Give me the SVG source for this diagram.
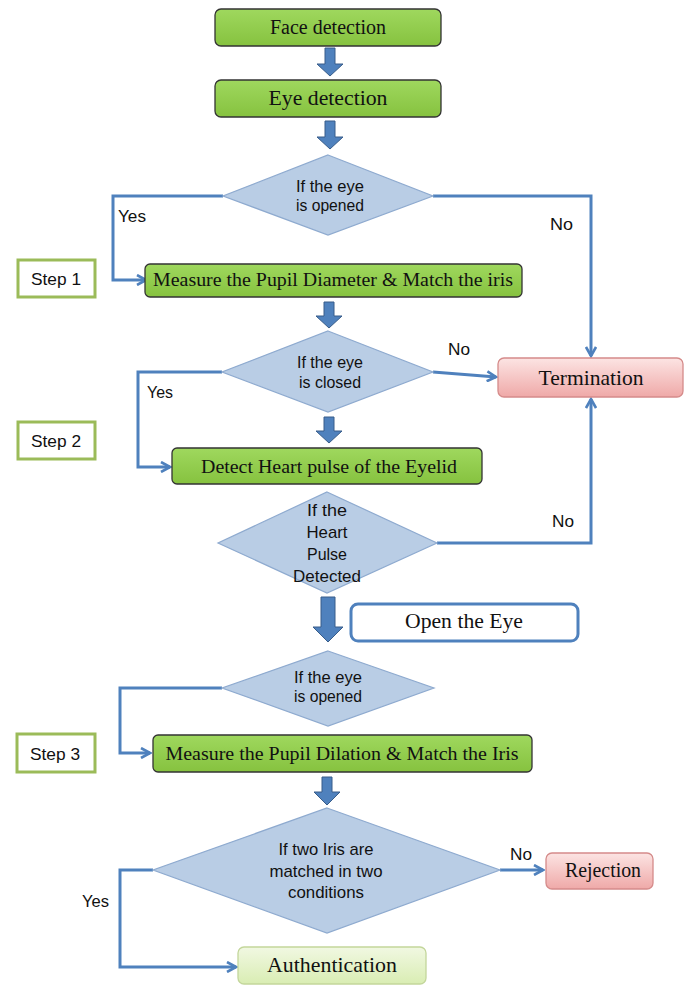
<svg xmlns="http://www.w3.org/2000/svg" width="691" height="985" viewBox="0 0 691 985">
<defs>
<linearGradient id="gGreen" x1="0" y1="0" x2="0" y2="1"><stop offset="0" stop-color="#9FD85E"/><stop offset="1" stop-color="#86C23F"/></linearGradient>
<linearGradient id="gPink" x1="0" y1="0" x2="0" y2="1"><stop offset="0" stop-color="#FCE4E3"/><stop offset="1" stop-color="#EFA9A8"/></linearGradient>
<linearGradient id="gLight" x1="0" y1="0" x2="0" y2="1"><stop offset="0" stop-color="#F1F8E2"/><stop offset="1" stop-color="#D9EDB3"/></linearGradient>
<marker id="ah" viewBox="0 0 12 12" refX="10" refY="6" markerWidth="12" markerHeight="12" markerUnits="userSpaceOnUse" orient="auto">
<path d="M1,1 L10,6 L1,11" fill="none" stroke="#4F81BD" stroke-width="2.6" stroke-linejoin="miter"/>
</marker>
<style>
.proc{fill:url(#gGreen);stroke:#333;stroke-width:1.3}
.term{fill:url(#gPink);stroke:#D58B8A;stroke-width:1.3}
.auth{fill:url(#gLight);stroke:#C3D69B;stroke-width:1.3}
.step{fill:#fff;stroke:#9BBB59;stroke-width:3}
.open{fill:#fff;stroke:#4F81BD;stroke-width:3}
.dec{fill:#B9CDE5;stroke:#8EAACF;stroke-width:1.2}
.blk{fill:#4F81BD;stroke:#385D8A;stroke-width:1}
.con{fill:none;stroke:#4F81BD;stroke-width:3;marker-end:url(#ah)}
.serif{font-family:"Liberation Serif","Times New Roman",serif;fill:#111;text-anchor:middle}
.sans{font-family:"Liberation Sans",Arial,sans-serif;fill:#111;text-anchor:middle;font-size:17px}
.lbl{font-family:"Liberation Sans",Arial,sans-serif;fill:#111;font-size:17px}
</style>
</defs>

<g id="connectors">
<path class="con" d="M223,196 H113 V280 H146"/>
<path class="con" d="M433,196 H591 V356"/>
<path class="con" d="M433,372 L496,377"/>
<path class="con" d="M222,372 H138 V467 H170"/>
<path class="con" d="M437,543 H591 V399"/>
<path class="con" d="M222,688 H120 V753 H150"/>
<path class="con" d="M153,870 H120 V967 H236"/>
<path class="con" d="M500,870 H543"/>
<path class="blk" d="M325,48 H335 V64 H343 L330,76 L317,64 H325 Z"/>
<path class="blk" d="M325,121 H335 V137 H343 L330,149 L317,137 H325 Z"/>
<path class="blk" d="M324,302 H334 V316 H342 L329,328 L316,316 H324 Z"/>
<path class="blk" d="M324,417 H334 V431 H342 L329,443 L316,431 H324 Z"/>
<path class="blk" d="M321,597 H335 V627 H343 L328,642 L313,627 H321 Z"/>
<path class="blk" d="M322,777 H332 V792 H340 L327,805 L314,792 H322 Z"/>
<text class="lbl" x="118" y="222" textLength="28" lengthAdjust="spacingAndGlyphs">Yes</text>
<text class="lbl" x="550" y="230" textLength="23" lengthAdjust="spacingAndGlyphs">No</text>
<text class="lbl" x="448" y="355" textLength="22" lengthAdjust="spacingAndGlyphs">No</text>
<text class="lbl" x="147" y="398" textLength="26" lengthAdjust="spacingAndGlyphs">Yes</text>
<text class="lbl" x="552" y="527" textLength="22" lengthAdjust="spacingAndGlyphs">No</text>
<text class="lbl" x="510" y="860" textLength="22" lengthAdjust="spacingAndGlyphs">No</text>
<text class="lbl" x="82" y="907" textLength="27" lengthAdjust="spacingAndGlyphs">Yes</text>
</g>

<g id="face">
<rect class="proc" x="215" y="9" width="226" height="37" rx="6"/>
<text class="serif" x="328" y="34" font-size="20" textLength="116" lengthAdjust="spacingAndGlyphs">Face detection</text>
</g>
<g id="eye">
<rect class="proc" x="215" y="80" width="226" height="37" rx="6"/>
<text class="serif" x="328" y="105" font-size="22" textLength="119" lengthAdjust="spacingAndGlyphs">Eye detection</text>
</g>
<g id="dec1">
<polygon class="dec" points="328,155 433,196 328,235 223,196"/>
<text class="sans" x="330" y="192" textLength="68" lengthAdjust="spacingAndGlyphs">If the eye</text>
<text class="sans" x="330" y="211" textLength="68" lengthAdjust="spacingAndGlyphs">is opened</text>
</g>
<g id="step1">
<rect class="step" x="18" y="260" width="77" height="37"/>
<text class="sans" x="56" y="285" textLength="50" lengthAdjust="spacingAndGlyphs">Step 1</text>
</g>
<g id="measure1">
<rect class="proc" x="145" y="264" width="377" height="33" rx="5"/>
<text class="serif" x="333" y="286" font-size="19" textLength="360" lengthAdjust="spacingAndGlyphs">Measure the Pupil Diameter &amp; Match the iris</text>
</g>
<g id="dec2">
<polygon class="dec" points="328,331 433,372 328,412 222,372"/>
<text class="sans" x="330" y="368" textLength="66" lengthAdjust="spacingAndGlyphs">If the eye</text>
<text class="sans" x="330" y="388" textLength="62" lengthAdjust="spacingAndGlyphs">is closed</text>
</g>
<g id="termination">
<rect class="term" x="498" y="358" width="185" height="39" rx="6"/>
<text class="serif" x="591" y="385" font-size="21" textLength="105" lengthAdjust="spacingAndGlyphs">Termination</text>
</g>
<g id="step2">
<rect class="step" x="18" y="422" width="77" height="37"/>
<text class="sans" x="56" y="447" textLength="50" lengthAdjust="spacingAndGlyphs">Step 2</text>
</g>
<g id="detect">
<rect class="proc" x="172" y="448" width="310" height="36" rx="5"/>
<text class="serif" x="329" y="473" font-size="19" textLength="256" lengthAdjust="spacingAndGlyphs">Detect Heart pulse of the Eyelid</text>
</g>
<g id="dec3">
<polygon class="dec" points="327,492 437,543 327,593 218,543"/>
<text class="sans" x="327" y="516" textLength="40" lengthAdjust="spacingAndGlyphs">If the</text>
<text class="sans" x="327" y="538" textLength="41" lengthAdjust="spacingAndGlyphs">Heart</text>
<text class="sans" x="327" y="560" textLength="40" lengthAdjust="spacingAndGlyphs">Pulse</text>
<text class="sans" x="327" y="582" textLength="68" lengthAdjust="spacingAndGlyphs">Detected</text>
</g>
<g id="openeye">
<rect class="open" x="351" y="604" width="227" height="37" rx="7"/>
<text class="serif" x="464" y="628" font-size="21" textLength="118" lengthAdjust="spacingAndGlyphs">Open the Eye</text>
</g>
<g id="dec4">
<polygon class="dec" points="328,651 434,688 328,726 222,688"/>
<text class="sans" x="328" y="683" textLength="68" lengthAdjust="spacingAndGlyphs">If the eye</text>
<text class="sans" x="328" y="702" textLength="68" lengthAdjust="spacingAndGlyphs">is opened</text>
</g>
<g id="step3">
<rect class="step" x="17" y="734" width="78" height="38"/>
<text class="sans" x="55" y="760" textLength="50" lengthAdjust="spacingAndGlyphs">Step 3</text>
</g>
<g id="measure2">
<rect class="proc" x="153" y="735" width="379" height="37" rx="5"/>
<text class="serif" x="342" y="760" font-size="19" textLength="353" lengthAdjust="spacingAndGlyphs">Measure the Pupil Dilation &amp; Match the Iris</text>
</g>
<g id="dec5">
<polygon class="dec" points="327,808 500,870 327,933 153,870"/>
<text class="sans" x="326" y="855" textLength="95" lengthAdjust="spacingAndGlyphs">If two Iris are</text>
<text class="sans" x="326" y="877" textLength="113" lengthAdjust="spacingAndGlyphs">matched in two</text>
<text class="sans" x="326" y="898" textLength="76" lengthAdjust="spacingAndGlyphs">conditions</text>
</g>
<g id="rejection">
<rect class="term" x="546" y="853" width="107" height="36" rx="6"/>
<text class="serif" x="603" y="877" font-size="20" textLength="76" lengthAdjust="spacingAndGlyphs">Rejection</text>
</g>
<g id="authentication">
<rect class="auth" x="238" y="947" width="188" height="37" rx="6"/>
<text class="serif" x="332" y="972" font-size="21" textLength="130" lengthAdjust="spacingAndGlyphs">Authentication</text>
</g>
</svg>
